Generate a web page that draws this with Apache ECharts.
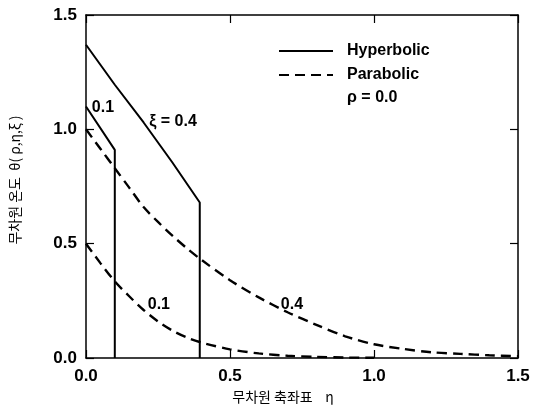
<!DOCTYPE html>
<html>
<head>
<meta charset="utf-8">
<script src="https://cdn.jsdelivr.net/npm/echarts@6/dist/echarts.min.js"></script>
<style>html,body{margin:0;padding:0;background:#fff;}#c{width:536px;height:418px;}</style>
</head>
<body>
<div id="c"></div>
<script>
// Hyperbolic solutions (eta, theta)
var hypEta01 = [0, 0.1, 0.1];
var hypTheta01 = [1.10, 0.91, 0];
var hypEta04 = [0, 0.1, 0.2, 0.3, 0.395, 0.395];
var hypTheta04 = [1.37, 1.195, 1.03, 0.855, 0.68, 0];
// Parabolic solutions
var parEta01 = [0, 0.05, 0.1, 0.15, 0.2, 0.25, 0.3, 0.35, 0.4, 0.5, 0.6, 0.7, 0.8, 0.9, 1.0];
var parTheta01 = [0.5, 0.415, 0.335, 0.27, 0.21, 0.16, 0.12, 0.09, 0.068, 0.038, 0.02, 0.01, 0.005, 0.002, 0.001];
var parEta04 = [0, 0.05, 0.1, 0.15, 0.2, 0.25, 0.3, 0.35, 0.4, 0.5, 0.6, 0.7, 0.8, 0.9, 1.0, 1.1, 1.2, 1.3, 1.4, 1.5];
var parTheta04 = [1.0, 0.915, 0.83, 0.745, 0.66, 0.595, 0.535, 0.48, 0.43, 0.34, 0.265, 0.2, 0.145, 0.095, 0.06, 0.04, 0.025, 0.018, 0.012, 0.008];
// Curve annotations
var curveLabels = ['0.1', 'ξ = 0.4', '0.1', '0.4'];
var curveLabelEta = [0.059, 0.302, 0.253, 0.715];
var curveLabelTheta = [1.094, 1.032, 0.232, 0.232];
var xTicks = [0, 0.5, 1.0, 1.5];
var yTicks = [0, 0.5, 1.0, 1.5];

function pairs(xs, ys) { return xs.map(function (x, i) { return [x, ys[i]]; }); }

var numFont = '"Liberation Sans", Arial, sans-serif';
var korFont = '"Noto Sans CJK KR", "Noto Sans", sans-serif';

var chart = echarts.init(document.getElementById('c'), null, { renderer: 'canvas' });

var axisCommon = {
  type: 'value', min: 0, max: 1.5, interval: 0.5,
  axisLine: { show: true, onZero: false, lineStyle: { color: '#000', width: 1.5 } },
  axisTick: { show: true, inside: true, length: 8, lineStyle: { color: '#000', width: 1.2 } },
  splitLine: { show: false }
};

chart.setOption({
  animation: false,
  backgroundColor: '#fff',
  grid: { left: 86, right: 18, top: 15, bottom: 60, containLabel: false },
  legend: {
    orient: 'vertical', left: 278, top: 43, padding: 0, itemWidth: 54, itemHeight: 14, itemGap: 8,
    data: ['Hyperbolic', 'Parabolic'],
    itemStyle: { opacity: 0 },
    textStyle: { fontFamily: numFont, fontWeight: 'bold', fontSize: 16, color: '#000', padding: [0, 0, 0, 9] }
  },
  xAxis: [
    Object.assign({}, axisCommon, {
      position: 'bottom',
      axisLabel: {
        margin: 10, fontFamily: numFont, fontWeight: 'bold', fontSize: 17, color: '#000',
        formatter: function (v) { return xTicks.indexOf(v) >= 0 ? v.toFixed(1) : ''; }
      }
    }),
    Object.assign({}, axisCommon, { position: 'top', axisLabel: { show: false } })
  ],
  yAxis: [
    Object.assign({}, axisCommon, {
      position: 'left',
      axisLabel: {
        margin: 9, fontFamily: numFont, fontWeight: 'bold', fontSize: 17, color: '#000',
        formatter: function (v) { return yTicks.indexOf(v) >= 0 ? v.toFixed(1) : ''; }
      }
    }),
    Object.assign({}, axisCommon, { position: 'right', axisLabel: { show: false } })
  ],
  series: [
    { name: 'Hyperbolic', type: 'line', symbol: 'none', data: pairs(hypEta01, hypTheta01),
      lineStyle: { color: '#000', width: 2, type: 'solid' }, itemStyle: { color: '#000' } },
    { name: 'Hyperbolic', type: 'line', symbol: 'none', data: pairs(hypEta04, hypTheta04),
      lineStyle: { color: '#000', width: 2, type: 'solid' }, itemStyle: { color: '#000' } },
    { name: 'Parabolic', type: 'line', symbol: 'none', smooth: 0.3, data: pairs(parEta01, parTheta01),
      lineStyle: { color: '#000', width: 2.4, type: [10, 6] }, itemStyle: { color: '#000' } },
    { name: 'Parabolic', type: 'line', symbol: 'none', smooth: 0.3, data: pairs(parEta04, parTheta04),
      lineStyle: { color: '#000', width: 2.4, type: [10, 6] }, itemStyle: { color: '#000' } },
    { name: 'labels', type: 'scatter', symbolSize: 0, silent: true,
      itemStyle: { color: '#000', opacity: 1 },
      data: curveLabels.map(function (t, i) { return { value: [curveLabelEta[i], curveLabelTheta[i]], name: t }; }),
      label: { show: true, position: 'inside', opacity: 1, formatter: function (p) { return p.name; },
        fontFamily: numFont, fontWeight: 'bold', fontSize: 16, color: '#000' } }
  ],
  graphic: [
    { type: 'text', left: 347, top: 90, style: { text: 'ρ = 0.0', font: 'bold 16px ' + numFont, fill: '#000' } },
    { type: 'text', x: 283, y: 397, style: { text: '무차원 축좌표    η', font: '14px ' + korFont, fill: '#000', align: 'center', verticalAlign: 'middle' } },
    { type: 'text', x: 15, y: 180, rotation: Math.PI / 2, style: { text: '무차원 온도  θ( ρ,η,ξ )', font: '14px ' + korFont, fill: '#000', align: 'center', verticalAlign: 'middle' } }
  ]
});
</script>
</body>
</html>
